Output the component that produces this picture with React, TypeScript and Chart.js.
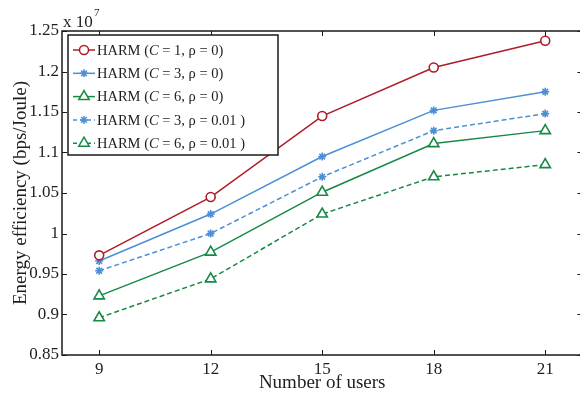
import React, { useEffect, useRef } from 'react';
import { Chart, registerables } from 'chart.js';

Chart.register(...registerables);

const users = [9, 12, 15, 18, 21];
const harmC1Rho0 = [0.973, 1.045, 1.145, 1.205, 1.238];
const harmC3Rho0 = [0.966, 1.024, 1.095, 1.152, 1.175];
const harmC6Rho0 = [0.923, 0.977, 1.051, 1.111, 1.127];
const harmC3Rho001 = [0.954, 1.0, 1.07, 1.127, 1.148];
const harmC6Rho001 = [0.896, 0.944, 1.024, 1.07, 1.085];

const xTicks = [9, 12, 15, 18, 21];
const yTicks = [0.85, 0.9, 0.95, 1, 1.05, 1.1, 1.15, 1.2, 1.25];

const legendC = ['1', '3', '6', '3', '6'];
const legendRho = ['0', '0', '0', '0.01 ', '0.01 '];

const RED = '#AE1C28';
const BLUE = '#4C8FD6';
const GREEN = '#168A45';
const FONT = "'Liberation Serif', 'Times New Roman', serif";
const TEXT = '#1e1e1e';

type SeriesDef = { values: number[]; color: string; style: string; radius: number; dash: number[] };
const series: SeriesDef[] = [
  { values: harmC1Rho0, color: RED, style: 'circle', radius: 4.5, dash: [] },
  { values: harmC3Rho0, color: BLUE, style: 'star', radius: 4, dash: [] },
  { values: harmC6Rho0, color: GREEN, style: 'triangle', radius: 6, dash: [] },
  { values: harmC3Rho001, color: BLUE, style: 'star', radius: 4, dash: [5, 3] },
  { values: harmC6Rho001, color: GREEN, style: 'triangle', radius: 6, dash: [5, 3] },
];

function drawMarker(ctx: CanvasRenderingContext2D, style: string, x: number, y: number, r: number, color: string) {
  ctx.save();
  ctx.setLineDash([]);
  ctx.strokeStyle = color;
  ctx.lineWidth = 1.5;
  ctx.fillStyle = '#fff';
  ctx.beginPath();
  if (style === 'circle') {
    ctx.arc(x, y, r, 0, Math.PI * 2);
    ctx.fill();
    ctx.stroke();
  } else if (style === 'triangle') {
    let a = 0;
    ctx.moveTo(x + Math.sin(a) * r, y - Math.cos(a) * r);
    a += (2 * Math.PI) / 3;
    ctx.lineTo(x + Math.sin(a) * r, y - Math.cos(a) * r);
    a += (2 * Math.PI) / 3;
    ctx.lineTo(x + Math.sin(a) * r, y - Math.cos(a) * r);
    ctx.closePath();
    ctx.fill();
    ctx.stroke();
  } else {
    for (let k = 0; k < 4; k++) {
      const a = (k * Math.PI) / 4;
      ctx.moveTo(x - Math.cos(a) * r, y - Math.sin(a) * r);
      ctx.lineTo(x + Math.cos(a) * r, y + Math.sin(a) * r);
    }
    ctx.stroke();
  }
  ctx.restore();
}

export default function App() {
  const ref = useRef<HTMLCanvasElement>(null);

  useEffect(() => {
    document.body.style.margin = '0';
    const canvas = ref.current!;

    const framePlugin = {
      id: 'frameAndLegend',
      afterDatasetsDraw(chart: any) {
        const { ctx, chartArea } = chart;
        const { left, right, top, bottom } = chartArea;
        const xs = chart.scales.x;
        const ys = chart.scales.y;
        ctx.save();
        ctx.strokeStyle = '#1a1a1a';
        ctx.lineWidth = 1.5;
        ctx.setLineDash([]);
        ctx.strokeRect(left, top, right - left, bottom - top);
        ctx.lineWidth = 1;
        ctx.beginPath();
        const tl = 5;
        xTicks.forEach((v) => {
          const px = Math.round(xs.getPixelForValue(v)) + 0.5;
          ctx.moveTo(px, bottom);
          ctx.lineTo(px, bottom - tl);
          ctx.moveTo(px, top);
          ctx.lineTo(px, top + tl);
        });
        yTicks.forEach((v) => {
          const py = Math.round(ys.getPixelForValue(v)) + 0.5;
          ctx.moveTo(left, py);
          ctx.lineTo(left + tl, py);
          ctx.moveTo(right, py);
          ctx.lineTo(right - tl, py);
        });
        ctx.stroke();

        // exponent label
        ctx.fillStyle = TEXT;
        ctx.textBaseline = 'alphabetic';
        ctx.textAlign = 'left';
        ctx.font = `17px ${FONT}`;
        ctx.fillText('x 10', 63, 27);
        ctx.font = `11px ${FONT}`;
        ctx.fillText('7', 94, 16);

        // legend
        const lx = 68, ly = 35, lw = 210, lh = 120;
        ctx.fillStyle = '#fff';
        ctx.fillRect(lx, ly, lw, lh);
        ctx.strokeStyle = '#1a1a1a';
        ctx.lineWidth = 1.5;
        ctx.strokeRect(lx, ly, lw, lh);
        series.forEach((s, i) => {
          const y = 50 + i * 23.3;
          ctx.save();
          ctx.strokeStyle = s.color;
          ctx.lineWidth = 1.5;
          ctx.setLineDash(s.dash.length ? [4, 3] : []);
          ctx.beginPath();
          ctx.moveTo(73, y);
          ctx.lineTo(95, y);
          ctx.stroke();
          ctx.restore();
          drawMarker(ctx, s.style, 84, y, s.radius, s.color);
          ctx.fillStyle = TEXT;
          ctx.textBaseline = 'middle';
          let x = 97;
          ctx.font = `14.5px ${FONT}`;
          const p1 = 'HARM (';
          ctx.fillText(p1, x, y + 1);
          x += ctx.measureText(p1).width;
          ctx.font = `italic 14.5px ${FONT}`;
          ctx.fillText('C', x, y + 1);
          x += ctx.measureText('C').width;
          ctx.font = `14.5px ${FONT}`;
          ctx.fillText(` = ${legendC[i]}, ρ = ${legendRho[i]})`, x, y + 1);
        });
        ctx.restore();
      },
    };

    const chart = new Chart(canvas, {
      type: 'line',
      data: {
        datasets: series.map((s, i) => ({
          label: `HARM (C = ${legendC[i]}, ρ = ${legendRho[i].trim()})`,
          data: users.map((u, j) => ({ x: u, y: s.values[j] })),
          borderColor: s.color,
          borderWidth: 1.5,
          borderDash: s.dash,
          pointStyle: s.style as any,
          pointRadius: s.radius,
          pointBorderColor: s.color,
          pointBackgroundColor: '#fff',
          pointBorderWidth: 1.6,
          tension: 0,
          fill: false,
        })),
      },
      options: {
        responsive: false,
        animation: false,
        devicePixelRatio: 1,
        layout: { padding: { top: 31, right: 6, left: 0, bottom: 0 } },
        plugins: { legend: { display: false }, tooltip: { enabled: false } },
        scales: {
          x: {
            type: 'linear',
            min: 8,
            max: 22,
            afterBuildTicks: (s: any) => {
              s.ticks = xTicks.map((v) => ({ value: v }));
            },
            afterFit: (s: any) => {
              s.height = 38;
            },
            grid: { display: false, drawTicks: false },
            border: { display: false },
            ticks: {
              font: { family: FONT, size: 17 },
              color: TEXT,
              padding: 4,
              maxRotation: 0,
              autoSkip: false,
              callback: (v: any) => String(v),
            },
            title: {
              display: true,
              text: 'Number of users',
              font: { family: FONT, size: 19, lineHeight: 1.1 },
              color: TEXT,
              padding: { top: 0, bottom: 0 },
            },
          },
          y: {
            type: 'linear',
            min: 0.85,
            max: 1.25,
            afterBuildTicks: (s: any) => {
              s.ticks = yTicks.map((v) => ({ value: v }));
            },
            afterFit: (s: any) => {
              s.width = 62;
            },
            grid: { display: false, drawTicks: false },
            border: { display: false },
            ticks: {
              font: { family: FONT, size: 17 },
              color: TEXT,
              padding: 3,
              autoSkip: false,
              callback: (v: any) => String(+Number(v).toFixed(2)),
            },
            title: {
              display: true,
              text: 'Energy efficiency (bps/Joule)',
              font: { family: FONT, size: 19, lineHeight: 1.2 },
              color: TEXT,
              padding: { top: 10, bottom: 0 },
            },
          },
        },
      },
      plugins: [framePlugin],
    });

    return () => chart.destroy();
  }, []);

  return (
    <div style={{ width: 580, height: 393, overflow: 'hidden', position: 'relative' }}>
      <canvas ref={ref} width={590} height={393} style={{ display: 'block' }} />
    </div>
  );
}
